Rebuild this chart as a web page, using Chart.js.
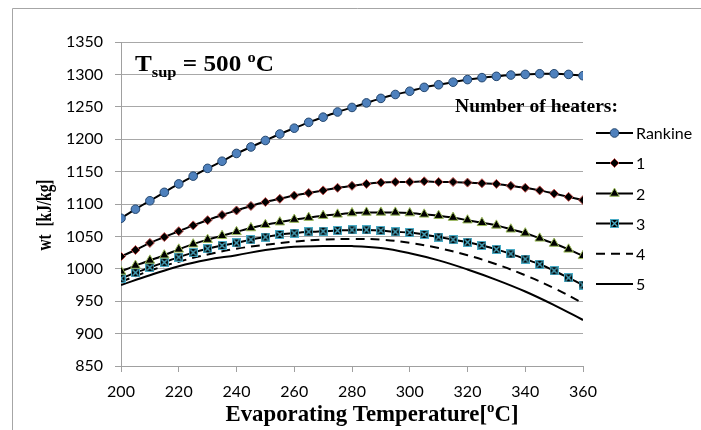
<!DOCTYPE html>
<html>
<head>
<meta charset="utf-8">
<script src="https://cdn.jsdelivr.net/npm/chart.js@4/dist/chart.umd.min.js"></script>
<style>
  html, body { margin: 0; padding: 0; background: #fff; }
  #wrap { width: 701px; height: 430px; position: relative; }
</style>
</head>
<body>
<div id="wrap"><canvas id="lineChart" width="701" height="430"></canvas></div>
<script>
// evaporating temperature, every 5 degC (marker series)
const temps = [200, 205, 210, 215, 220, 225, 230, 235, 240, 245, 250, 255, 260, 265, 270, 275, 280,
    285, 290, 295, 300, 305, 310, 315, 320, 325, 330, 335, 340, 345, 350, 355, 360];
// coarser temperatures for the two plain lines
const temps10 = [200, 210, 220, 230, 240, 250, 260, 270, 280, 290, 300, 310, 320, 330, 340, 350, 360];

const rankine = [1078, 1092, 1105, 1118, 1131, 1143, 1155, 1166, 1178, 1188, 1198, 1208, 1217, 1226, 1234, 1242, 1249,
    1256, 1263, 1269, 1274, 1280, 1284, 1288, 1292, 1295, 1297, 1299, 1300, 1301, 1301, 1300, 1298];
const heaters1 = [1019, 1029, 1040, 1049, 1058, 1067, 1075, 1083, 1090, 1097, 1103, 1108, 1113, 1117, 1121, 1125, 1128,
    1131, 1133, 1134, 1134, 1135, 1134, 1134, 1133, 1132, 1131, 1128, 1125, 1121, 1116, 1111, 1106];
const heaters2 = [996, 1005, 1013, 1021, 1030, 1038, 1045, 1051, 1057, 1063, 1068, 1072, 1076, 1079, 1082, 1084, 1086,
    1087, 1087, 1087, 1086, 1084, 1082, 1079, 1075, 1071, 1067, 1061, 1055, 1047, 1039, 1030, 1020];
const heaters3 = [985, 994, 1002, 1010, 1018, 1025, 1031, 1036, 1040, 1045, 1049, 1053, 1055, 1057, 1058, 1059, 1060,
    1060, 1059, 1057, 1056, 1053, 1049, 1045, 1041, 1036, 1030, 1023, 1015, 1007, 997, 986, 975];
const heaters4 = [980, 997, 1011, 1022, 1031, 1037, 1042, 1045, 1046, 1045, 1040, 1032, 1021, 1007, 990, 970, 947];
const heaters5 = [975, 990, 1004, 1014, 1021, 1029, 1034, 1035, 1035, 1032, 1024, 1013, 999, 983, 965, 944, 921];

const seriesNames = ['Rankine', '1', '2', '3', '4', '5'];
const xTicks = [200, 220, 240, 260, 280, 300, 320, 340, 360];
const yTicks = [850, 900, 950, 1000, 1050, 1100, 1150, 1200, 1250, 1300, 1350];

const serif = '"Liberation Serif", "Times New Roman", serif';
const sans = 'Lato, "Open Sans", sans-serif';

function pairs(xs, ys) {
    return xs.map((x, i) => ({ x: x, y: ys[i] }));
}

// black square with a teal cross, used as point style for series 3
function crossBox(size) {
    const c = document.createElement('canvas');
    c.width = size; c.height = size;
    const g = c.getContext('2d');
    g.fillStyle = '#000';
    g.fillRect(0, 0, size, size);
    g.strokeStyle = '#4bacc6';
    g.lineWidth = 1;
    g.strokeRect(0.5, 0.5, size - 1, size - 1);
    g.lineWidth = 1.4;
    g.beginPath();
    g.moveTo(1.5, 1.5); g.lineTo(size - 1.5, size - 1.5);
    g.moveTo(size - 1.5, 1.5); g.lineTo(1.5, size - 1.5);
    g.stroke();
    return c;
}
const boxMarker = crossBox(9);

// draw text squeezed/stretched to a given width
function fitText(ctx, text, x, y, width, font, align) {
    ctx.save();
    ctx.font = font;
    const w = ctx.measureText(text).width;
    const k = width / w;
    let left = x;
    if (align === 'center') left = x - width / 2;
    ctx.translate(left, y);
    ctx.scale(k, 1);
    ctx.textAlign = 'left';
    ctx.fillText(text, 0, 0);
    ctx.restore();
}

// draw a run of pieces [text, font, dy], scaled to width
function fitRuns(ctx, runs, x, y, width, align) {
    ctx.save();
    let total = 0;
    runs.forEach(r => { ctx.font = r[1]; total += ctx.measureText(r[0]).width; });
    const k = width / total;
    let left = align === 'center' ? x - width / 2 : x;
    ctx.translate(left, y);
    ctx.scale(k, 1);
    ctx.textAlign = 'left';
    let cx = 0;
    runs.forEach(r => {
        ctx.font = r[1];
        ctx.fillText(r[0], cx, r[2]);
        cx += ctx.measureText(r[0]).width;
    });
    ctx.restore();
}

const decorPlugin = {
    id: 'decor',
    beforeDraw(chart) {
        const ctx = chart.ctx;
        ctx.save();
        ctx.fillStyle = '#fff';
        ctx.fillRect(0, 0, chart.width, chart.height);
        ctx.strokeStyle = '#a6a6a6';
        ctx.lineWidth = 1;
        ctx.beginPath();
        ctx.moveTo(12.5, chart.height + 5);
        ctx.lineTo(12.5, 8.5);
        ctx.lineTo(chart.width + 5, 8.5);
        ctx.stroke();
        ctx.restore();
    },
    afterDraw(chart) {
        const ctx = chart.ctx;
        ctx.save();
        ctx.fillStyle = '#000';
        ctx.textBaseline = 'alphabetic';

        // annotation
        const b22 = 'bold 23px ' + serif;
        const b14 = 'bold 15px ' + serif;
        fitRuns(ctx, [
            ['T', b22, 0], ['sup', b14, 6], [' = 500 ', b22, 0], ['o', b14, -9], ['C', b22, 0]
        ], 135, 71, 139, 'left');

        // axis titles
        fitRuns(ctx, [
            ['Evaporating Temperature[', b22, 0], ['o', b14, -9], ['C]', b22, 0]
        ], 372, 421, 293, 'center');

        ctx.save();
        ctx.translate(51, 215);
        ctx.rotate(-Math.PI / 2);
        fitText(ctx, 'wt  [kJ/kg]', 0, 0, 71, 'bold 22px ' + serif, 'center');
        ctx.restore();

        // legend
        fitText(ctx, 'Number of heaters:', 455, 112, 163, 'bold 19px ' + serif, 'left');
        const rowY = [133, 163, 193.5, 223.5, 253.7, 284];
        chart.data.datasets.forEach((ds, i) => {
            const y = rowY[i];
            ctx.save();
            ctx.strokeStyle = ds.borderColor;
            ctx.lineWidth = ds.borderWidth;
            ctx.setLineDash(ds.borderDash || []);
            ctx.beginPath();
            ctx.moveTo(596, y);
            ctx.lineTo(633, y);
            ctx.stroke();
            ctx.restore();
            if (ds.pointRadius > 0 && Chart.helpers && Chart.helpers.drawPoint) {
                ctx.save();
                ctx.fillStyle = ds.pointBackgroundColor;
                ctx.strokeStyle = ds.pointBorderColor;
                ctx.lineWidth = ds.pointBorderWidth;
                Chart.helpers.drawPoint(ctx, {
                    pointStyle: ds.pointStyle,
                    radius: ds.pointRadius,
                    rotation: 0,
                    borderWidth: ds.pointBorderWidth
                }, 614.5, y);
                ctx.restore();
            }
            ctx.font = '16px ' + sans;
            ctx.textBaseline = 'middle';
            ctx.fillStyle = '#000';
            ctx.fillText(seriesNames[i], 636, y + 1);
        });
        ctx.restore();
    }
};

document.addEventListener('DOMContentLoaded', () => {
    const ctx = document.getElementById('lineChart');
    new Chart(ctx, {
        type: 'line',
        data: {
            datasets: [
                {
                    label: seriesNames[0],
                    data: pairs(temps, rankine),
                    borderColor: '#000', borderWidth: 2, tension: 0.3,
                    pointStyle: 'circle', pointRadius: 4.3,
                    pointBackgroundColor: '#4f81bd', pointBorderColor: '#24476f', pointBorderWidth: 1
                },
                {
                    label: seriesNames[1],
                    data: pairs(temps, heaters1),
                    borderColor: '#000', borderWidth: 2, tension: 0.3,
                    pointStyle: 'rectRot', pointRadius: 4.5,
                    pointBackgroundColor: '#000', pointBorderColor: '#c0504d', pointBorderWidth: 1
                },
                {
                    label: seriesNames[2],
                    data: pairs(temps, heaters2),
                    borderColor: '#000', borderWidth: 2, tension: 0.3,
                    pointStyle: 'triangle', pointRadius: 5.5,
                    pointBackgroundColor: '#000', pointBorderColor: '#9bbb59', pointBorderWidth: 1
                },
                {
                    label: seriesNames[3],
                    data: pairs(temps, heaters3),
                    borderColor: '#000', borderWidth: 2, tension: 0.3,
                    pointStyle: boxMarker, pointRadius: 4.5,
                    pointBackgroundColor: '#000', pointBorderColor: '#4bacc6', pointBorderWidth: 1
                },
                {
                    label: seriesNames[4],
                    data: pairs(temps10, heaters4),
                    borderColor: '#000', borderWidth: 2, borderDash: [9, 6], tension: 0.4,
                    pointRadius: 0
                },
                {
                    label: seriesNames[5],
                    data: pairs(temps10, heaters5),
                    borderColor: '#000', borderWidth: 2, tension: 0.4,
                    pointRadius: 0
                }
            ]
        },
        options: {
            responsive: false,
            animation: false,
            events: [],
            layout: { padding: { left: 0, right: 118, top: 42, bottom: 0 } },
            plugins: {
                legend: { display: false },
                tooltip: { enabled: false }
            },
            scales: {
                x: {
                    type: 'linear',
                    min: 200, max: 360,
                    afterFit: s => { s.height = 64; },
                    afterBuildTicks: s => { s.ticks = xTicks.map(v => ({ value: v })); },
                    grid: {
                        drawOnChartArea: false, tickLength: 6,
                        color: '#a0a0a0', tickColor: '#a0a0a0'
                    },
                    border: { color: '#a0a0a0', width: 1 },
                    ticks: {
                        font: { family: sans, size: 16 }, color: '#000', padding: 10,
                        maxRotation: 0,
                        callback: v => String(v)
                    }
                },
                y: {
                    min: 850, max: 1350,
                    afterFit: s => { s.width = 121; },
                    afterBuildTicks: s => { s.ticks = yTicks.map(v => ({ value: v })); },
                    grid: {
                        color: '#a8a8a8', tickLength: 6, tickColor: '#a0a0a0',
                        borderDash: [3, 3], tickBorderDash: [], lineWidth: 1
                    },
                    border: { color: '#a0a0a0', width: 1 },
                    ticks: {
                        font: { family: sans, size: 16 }, color: '#000', padding: 12,
                        callback: v => String(v)
                    }
                }
            }
        },
        plugins: [decorPlugin]
    });
});
</script>
</body>
</html>
